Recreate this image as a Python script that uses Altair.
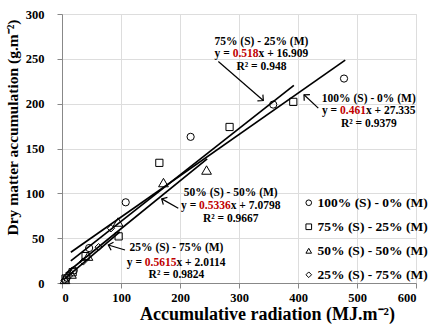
import math
import altair as alt
import pandas as pd

# ---------------- data ----------------
series = ["100% (S) - 0% (M)", "75% (S) - 25% (M)", "50% (S) - 50% (M)", "25% (S) - 75% (M)"]
shapes = ["circle", "square", "triangle-up", "diamond"]

x100 = [8, 20, 46, 108, 218, 358, 478]
y100 = [6, 14, 39, 90, 163, 199, 228]
x75 = [6, 18, 40, 96, 165, 284, 392]
y75 = [5, 12, 30, 52, 134, 174, 202]
x50 = [5, 16, 44, 95, 172, 245]
y50 = [4, 10, 30, 68, 112, 126]
x25 = [4, 12, 36, 62, 83]
y25 = [3, 8, 24, 40, 61]

slopes = ["0.461", "0.518", "0.5336", "0.5615"]
intercepts = ["27.335", "16.909", "7.0798", "2.0114"]
r2 = ["0.9379", "0.948", "0.9667", "0.9824"]
line_start = [15, 15, 6, 3]
line_end = [480, 393, 246, 98]

x_ticks = [0, 100, 200, 300, 400, 500, 600]
y_ticks = [0, 50, 100, 150, 200, 250, 300]

# annotation anchors (data units): centre x, title / equation / R2 rows
ann_cx = [520, 338, 286, 194]
ann_title_y = [205.4, 268.3, 100.8, 38.7]
ann_eq_y = [191.3, 255.3, 86.0, 22.7]
ann_r2_y = [177.2, 240.8, 71.5, 8.9]

# arrows (tail -> head), data units
arr_x1 = [434.4, 265.0, 197.1, 106.8]
arr_y1 = [195.0, 247.1, 83.4, 36.8]
arr_x2 = [410.2, 341.2, 169.0, 78.5]
arr_y2 = [209.9, 203.5, 93.8, 42.4]

# ---------------- tables ----------------
W, H = 354, 269
XMAX, YMAX = 600, 300
ANN_FS = 11.5

pts = []
for s, xs_, ys_ in zip(series, [x100, x75, x50, x25], [y100, y75, y50, y25]):
    for a, b in zip(xs_, ys_):
        pts.append({"series": s, "x": a, "y": b})
pts = pd.DataFrame(pts)
tri = series[2]
pts_main = pts[pts["series"] != tri]
pts_tri = pts[pts["series"] == tri]

lines = []
for i, s in enumerate(series):
    m, c = float(slopes[i]), float(intercepts[i])
    for xx in (line_start[i], line_end[i]):
        lines.append({"series": s, "x": xx, "y": m * xx + c})
lines = pd.DataFrame(lines)

# approximate advance widths (em) of Times bold, used to butt the coloured pieces together
EM = {".": 0.25, " ": 0.25, "=": 0.57, "+": 0.57, "x": 0.5, "y": 0.5}


def text_w(t):
    return sum(EM.get(ch, 0.5) for ch in t) * ANN_FS * XMAX / W  # in data units


center_txt, left_txt, red_txt, right_txt = [], [], [], []
for i, s in enumerate(series):
    center_txt.append({"x": ann_cx[i], "y": ann_title_y[i], "t": s})
    center_txt.append({"x": ann_cx[i], "y": ann_r2_y[i], "t": "R² = " + r2[i]})
    p1, p2, p3 = "y = ", slopes[i], "x + " + intercepts[i]
    total = text_w(p1) + text_w(p2) + text_w(p3)
    x0 = ann_cx[i] - total / 2
    left_txt.append({"x": x0, "y": ann_eq_y[i], "t": p1})
    red_txt.append({"x": x0 + text_w(p1), "y": ann_eq_y[i], "t": p2})
    right_txt.append({"x": x0 + text_w(p1) + text_w(p2), "y": ann_eq_y[i], "t": p3})

arrows = []
for i in range(4):
    dxp = (arr_x2[i] - arr_x1[i]) * W / XMAX
    dyp = -(arr_y2[i] - arr_y1[i]) * H / YMAX
    ang = math.degrees(math.atan2(dyp, dxp)) % 360
    arrows.append({"x1": arr_x1[i], "y1": arr_y1[i], "x2": arr_x2[i], "y2": arr_y2[i], "ang": ang})
arrows = pd.DataFrame(arrows)

# ---------------- chart ----------------
FONT = "Times New Roman, Liberation Serif, serif"
xs = alt.Scale(domain=[0, XMAX], nice=False)
ys = alt.Scale(domain=[0, YMAX], nice=False)

lab = dict(labelFont=FONT, labelFontWeight="bold", labelFontSize=12.5, labelColor="black")
x_axis = alt.Axis(values=x_ticks, title="Accumulative radiation (MJ.m⁻²)", titleFontSize=18,
                  titleX=205, titleY=31, titleBaseline="middle", labelPadding=3, **lab)
y_axis = alt.Axis(values=y_ticks, title="Dry matter accumulation (g.m⁻²)", titleFontSize=15.5,
                  titleX=-50, titleY=113, titleAngle=-90, titleAlign="center",
                  titleBaseline="middle", labelPadding=13, **lab)

shape_enc = alt.Shape(
    "series:N", scale=alt.Scale(domain=series, range=shapes),
    legend=alt.Legend(title=None, orient="none", legendX=240, legendY=182,
                      labelFont=FONT, labelFontWeight="bold", labelFontSize=13.5,
                      labelColor="black", symbolSize=32, symbolStrokeColor="black",
                      symbolStrokeWidth=1, symbolFillColor="transparent",
                      rowPadding=9, labelOffset=2, padding=0))

points = alt.Chart(pts_main).mark_point(filled=False, color="black", size=52, strokeWidth=1, opacity=1).encode(
    x=alt.X("x:Q", scale=xs, axis=x_axis),
    y=alt.Y("y:Q", scale=ys, axis=y_axis),
    shape=shape_enc,
)
points_tri = alt.Chart(pts_tri).mark_point(filled=False, color="black", size=95, strokeWidth=1, opacity=1).encode(
    x=alt.X("x:Q", scale=xs),
    y=alt.Y("y:Q", scale=ys),
    shape=shape_enc,
)

reg = alt.Chart(lines).mark_line(color="black", strokeWidth=1.7).encode(
    x=alt.X("x:Q", scale=xs), y=alt.Y("y:Q", scale=ys), detail="series:N"
)

txt_style = dict(font=FONT, fontWeight="bold", fontSize=ANN_FS, baseline="middle")
t_center = alt.Chart(pd.DataFrame(center_txt)).mark_text(align="center", color="black", **txt_style).encode(
    x=alt.X("x:Q", scale=xs), y=alt.Y("y:Q", scale=ys), text="t:N")
t_left = alt.Chart(pd.DataFrame(left_txt)).mark_text(align="left", color="black", **txt_style).encode(
    x=alt.X("x:Q", scale=xs), y=alt.Y("y:Q", scale=ys), text="t:N")
t_red = alt.Chart(pd.DataFrame(red_txt)).mark_text(align="left", color="#C00000", **txt_style).encode(
    x=alt.X("x:Q", scale=xs), y=alt.Y("y:Q", scale=ys), text="t:N")
t_right = alt.Chart(pd.DataFrame(right_txt)).mark_text(align="left", color="black", **txt_style).encode(
    x=alt.X("x:Q", scale=xs), y=alt.Y("y:Q", scale=ys), text="t:N")

arrow_lines = alt.Chart(arrows).mark_rule(color="black", strokeWidth=1.2).encode(
    x=alt.X("x1:Q", scale=xs), y=alt.Y("y1:Q", scale=ys), x2="x2:Q", y2="y2:Q")
arrow_heads = alt.Chart(arrows).mark_point(
    shape="M -1 -1 L 0 0 L -1 1", filled=False, color="black", size=70, strokeWidth=1.2, opacity=1
).encode(x=alt.X("x2:Q", scale=xs), y=alt.Y("y2:Q", scale=ys), angle=alt.Angle("ang:Q", scale=None))

chart = alt.layer(reg, points, points_tri, arrow_lines, arrow_heads, t_center, t_left, t_red, t_right).properties(
    width=W, height=H,
    autosize=alt.AutoSizeParams(type="none"),
    padding={"left": 62, "top": 14, "right": 23, "bottom": 52},
).configure_view(stroke=None).configure_axis(
    grid=False, domainColor="#808080", tickColor="#808080", tickSize=5,
    labelFont=FONT, labelFontWeight="bold", labelFontSize=12.5, labelColor="black",
    titleFont=FONT, titleFontWeight="bold", titleColor="black",
).configure_text(font=FONT).configure(background="white", font=FONT)

chart.save("out.html", embed_options={"renderer": "svg", "actions": False})
